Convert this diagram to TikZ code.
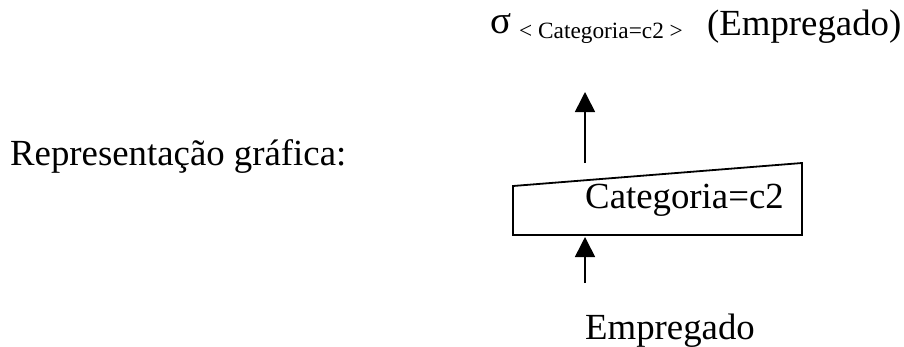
\documentclass[tikz,border=0pt]{standalone}
\usepackage{fontspec}
\setmainfont{Liberation Serif}
\usetikzlibrary{arrows.meta}
\tikzset{
  lbl/.style={anchor=base west, inner sep=0pt, font=\fontsize{36.8}{40}\selectfont},
  sub/.style={anchor=base west, inner sep=0pt, font=\fontsize{23.3}{26}\selectfont},
  flow/.style={line width=1.6pt, -{Triangle[width=20pt,length=20pt]}},
  opbox/.style={line width=1.8pt, line join=miter}
}
\begin{document}
\begin{tikzpicture}[x=1pt,y=-1pt]
\useasboundingbox (0,0) rectangle (904,346);
% top expression
\node[lbl, font=\fontsize{39}{42}\selectfont] (sig) at (490,33) {σ};
\node[sub] (cond) at (519,38) {< Categoria=c2 >};
\node[lbl] (rel) at (707,35) {(Empregado)};
% label
\node[lbl] (rep) at (10,165) {Representação gráfica:};
% operator box
\coordinate (bl) at (513,235);
\coordinate (br) at (802,235);
\coordinate (tr) at (802,163);
\coordinate (tl) at (513,186);
\draw[opbox] (tl) -- (tr) -- (br) -- (bl) -- cycle;
\node[lbl] (sel) at (585,208) {Categoria=c2};
% input relation
\node[lbl] (emp) at (585,339) {Empregado};
% connectors
\coordinate (inTail) at (585,283);
\coordinate (inTip) at (585,237);
\coordinate (outTail) at (585,163);
\coordinate (outTip) at (585,92);
\draw[flow] (inTail) -- (inTip);
\draw[flow] (outTail) -- (outTip);
\end{tikzpicture}
\end{document}
